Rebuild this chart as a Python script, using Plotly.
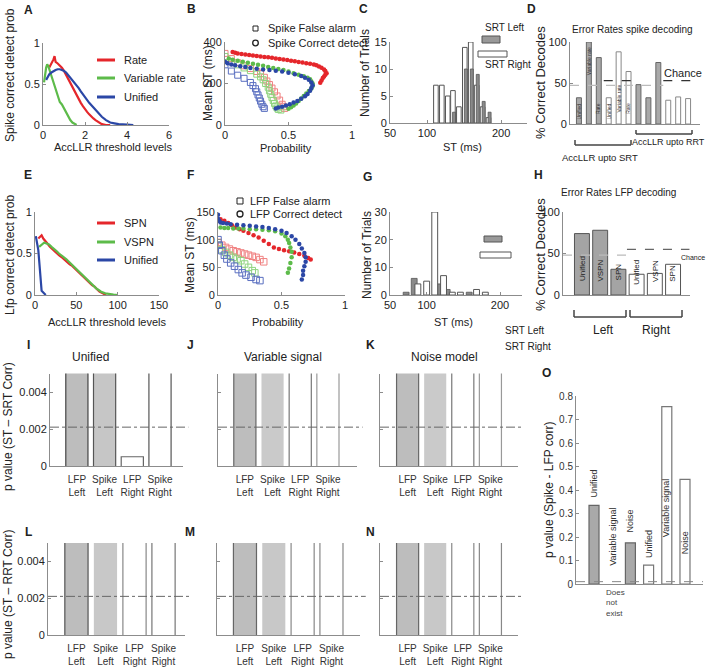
import plotly.graph_objects as go

W, H = 708, 670
FONT = "Liberation Sans, Arial, Helvetica, sans-serif"

def px_x(p):
    return p / W

def px_y(p):
    return 1 - p / H

# ---------------- DATA ----------------
# Panel A: spike correct detect prob vs AccLLR threshold
A_rate_x = [0.30,0.38,0.45,0.50,0.55,0.60,0.70,0.80,0.90,1.00,1.10,1.20,1.30,1.40,1.50,1.60,1.70,1.80,1.90,2.00,2.10,2.20,2.30,2.40,2.50,2.60,2.70,2.80,3.00,3.20]
A_rate_y = [0.70,0.74,0.76,0.80,0.84,0.77,0.75,0.73,0.70,0.66,0.61,0.56,0.50,0.45,0.40,0.35,0.31,0.27,0.23,0.19,0.16,0.13,0.10,0.08,0.06,0.04,0.02,0.01,0.00,0.00]
A_var_x = [0.05,0.10,0.15,0.20,0.25,0.30,0.35,0.40,0.50,0.60,0.70,0.80,0.90,1.00,1.10,1.20,1.30,1.40,1.50,1.60]
A_var_y = [0.52,0.62,0.70,0.74,0.72,0.68,0.64,0.60,0.51,0.42,0.34,0.28,0.25,0.20,0.15,0.10,0.06,0.03,0.01,0.00]
A_uni_x = [0.15,0.20,0.25,0.30,0.40,0.50,0.60,0.70,0.80,0.90,1.00,1.10,1.20,1.30,1.40,1.50,1.60,1.70,1.80,1.90,2.00,2.20,2.40,2.60,2.80,3.00,3.20,3.40,3.60,4.00,4.30]
A_uni_y = [0.55,0.58,0.60,0.62,0.64,0.66,0.67,0.68,0.68,0.67,0.66,0.64,0.61,0.58,0.55,0.52,0.48,0.45,0.41,0.38,0.34,0.27,0.21,0.15,0.10,0.06,0.03,0.02,0.01,0.005,0.0]

# Panel B: mean ST vs probability (spike)
B_red_cd_x = [0.06,0.08,0.10,0.13,0.16,0.19,0.22,0.25,0.28,0.31,0.34,0.37,0.40,0.43,0.46,0.49,0.52,0.55,0.58,0.61,0.64,0.67,0.70,0.72,0.74,0.76,0.78,0.79,0.80,0.79,0.78,0.77,0.76,0.75]
B_red_cd_y = [352,348,345,342,340,337,335,333,330,328,326,324,321,318,316,313,310,307,304,301,298,295,292,288,282,276,268,260,250,242,234,226,214,204]
B_red_fa_x = [0.00,0.05,0.10,0.15,0.20,0.25,0.28,0.31,0.33,0.35,0.37,0.39,0.41,0.43,0.45,0.46,0.47]
B_red_fa_y = [345,320,300,285,272,258,248,230,212,195,178,160,140,120,100,88,80]
B_grn_cd_x = [0.03,0.06,0.10,0.14,0.18,0.22,0.26,0.30,0.34,0.38,0.42,0.46,0.50,0.54,0.58,0.62,0.65,0.67,0.68,0.69,0.69,0.68,0.66,0.64,0.62,0.60,0.58,0.56,0.54,0.52,0.50]
B_grn_cd_y = [320,315,310,305,300,295,290,285,280,275,270,265,258,250,242,235,228,220,210,200,188,176,164,152,140,128,116,104,94,85,78]
B_grn_fa_x = [0.00,0.05,0.10,0.15,0.20,0.25,0.28,0.30,0.32,0.34,0.35,0.36,0.37,0.38,0.39,0.40,0.41,0.42,0.44]
B_grn_fa_y = [330,305,290,275,262,245,232,218,200,182,165,148,132,118,104,92,82,75,72]
B_blu_cd_x = [0.00,0.02,0.05,0.08,0.12,0.16,0.20,0.25,0.30,0.35,0.40,0.45,0.50,0.55,0.60,0.63,0.66,0.68,0.69,0.68,0.67,0.65,0.63,0.60,0.57,0.54,0.51,0.48,0.45,0.42,0.40]
B_blu_cd_y = [305,298,292,288,283,279,275,271,268,265,262,258,252,245,236,228,218,205,192,178,165,150,138,126,116,108,100,94,88,84,80]
B_blu_fa_x = [0.00,0.05,0.10,0.15,0.20,0.22,0.24,0.25,0.26,0.27,0.28,0.29,0.30,0.31]
B_blu_fa_y = [290,260,240,225,205,190,175,160,145,130,115,100,88,80]

# Panel C: ST histogram (spike)
C_right_st = [112,120,128,135,143,151,159,167,175,183]
C_right_n = [7,7,5,6,3,14,15,7,3,1]
C_left_st = [135,151,159,167,175,183]
C_left_n = [2,10,10,9,4,2]

# Panel D: error rates spike decoding
D_idx = [1,2,3,4,5,6,7,8,9,10,11,12]
D_vals = [32,100,81,32,88,64,48,32,75,29,33,31]
D_left = [True,True,True,False,False,False,True,True,True,False,False,False]
D_labels = ["Unified","Variable rate","Rate","Unified","Variable rate","Rate"]
D_label_y = [3,96,10,3,11,10]
D_chance_gray = 47
D_chance_dark = 53

# Panel E: LFP correct detect prob
E_spn_x = [4,6,8,10,12,15,18,21,24,27,30,33,36,39,42,45,48,51,54,57,60,63,66,69,72,75,78,82,86]
E_spn_y = [0.68,0.70,0.72,0.68,0.66,0.62,0.58,0.55,0.52,0.50,0.47,0.45,0.42,0.40,0.37,0.35,0.32,0.29,0.27,0.24,0.21,0.18,0.15,0.12,0.10,0.07,0.04,0.02,0.0]
E_vspn_x = [5,8,11,14,17,20,23,26,29,32,35,38,41,44,47,50,53,56,59,62,65,68,71,74,77,80,85,90,95,100]
E_vspn_y = [0.58,0.61,0.63,0.62,0.61,0.58,0.56,0.53,0.50,0.48,0.45,0.43,0.40,0.37,0.34,0.31,0.28,0.26,0.23,0.20,0.17,0.14,0.11,0.08,0.06,0.04,0.02,0.01,0.005,0.0]
E_uni_x = [1,2,3,4,5,6,7,8,10,12,13]
E_uni_y = [0.71,0.66,0.60,0.54,0.42,0.25,0.10,0.05,0.03,0.01,0.0]

# Panel F: mean ST vs probability (LFP)
F_blu_cd_x = [0.00,0.00,0.01,0.02,0.04,0.07,0.10,0.15,0.20,0.25,0.30,0.35,0.40,0.45,0.50,0.54,0.58,0.61,0.64,0.66,0.68,0.69,0.69,0.68,0.67,0.67,0.66]
F_blu_cd_y = [145,138,134,131,130,129,128,127,126,125,124,123,121,119,116,112,106,100,92,84,76,68,60,52,44,36,28]
F_grn_cd_x = [0.02,0.05,0.08,0.12,0.16,0.20,0.25,0.30,0.35,0.40,0.45,0.50,0.53,0.55,0.56,0.57,0.58,0.58,0.57,0.56,0.55]
F_grn_cd_y = [122,121,121,120,120,120,119,119,118,117,115,111,106,100,94,86,78,68,58,48,40]
F_red_cd_x = [0.02,0.05,0.08,0.11,0.14,0.17,0.20,0.24,0.28,0.32,0.36,0.40,0.44,0.48,0.52,0.56,0.60,0.64,0.68,0.71,0.73]
F_red_cd_y = [137,134,130,126,122,119,116,112,108,104,98,92,86,83,81,79,77,74,71,67,64]
F_red_fa_x = [0.00,0.03,0.06,0.09,0.12,0.15,0.18,0.21,0.24,0.27,0.30,0.33,0.36]
F_red_fa_y = [95,90,86,83,80,78,76,74,72,70,68,64,60]
F_grn_fa_x = [0.00,0.03,0.06,0.09,0.12,0.15,0.18,0.21,0.24,0.27,0.29]
F_grn_fa_y = [90,82,77,72,68,65,62,56,50,44,40]
F_blu_fa_x = [0.00,0.01,0.03,0.05,0.07,0.10,0.13,0.16,0.19,0.22,0.26,0.30,0.33]
F_blu_fa_y = [100,90,80,72,65,58,52,46,40,36,32,28,26]

# Panel G: ST histogram (LFP)
G_right_st = [88,100,111,123,135,146,168,180]
G_right_n = [4,5,30,7,1,1,2,1]
G_left_st = [72,83,117,128,158]
G_left_n = [1,6,4,2,1]

# Panel H: error rates LFP decoding
H_idx = [1,2,3,4,5,6]
H_vals = [74,78,31,25,26,37]
H_left = [True,True,True,False,False,False]
H_labels = ["Unified","VSPN","SPN","Unified","VSPN","SPN"]
H_label_y = [15,14,15,10,13,13]
H_chance_gray = 48
H_chance_dark = 55

# Panels I-N: p values
pv_cats = [1,2,3,4]
pv_ticktext = ["LFP<br>Left","Spike<br>Left","LFP<br>Right","Spike<br>Right"]
I_vals = [0.05,0.05,0.0005,0.05]
J_vals = [0.05,0.05,0.05,0.05]
K_vals = [0.05,0.05,0.05,0.05]
L_vals = [0.05,0.05,0.05,0.05]
M_vals = [0.05,0.05,0.05,0.05]
N_vals = [0.05,0.05,0.05,0.05]
pv_threshold = 0.0021

# Panel O: p value spike-LFP corr
O_idx = [1,2,3,4,5,6]
O_vals = [0.335,None,0.175,0.08,0.755,0.445]
O_left = [True,True,True,False,False,False]
O_labels = ["Unified","Variable signal","Noise","Unified","Variable signal","Noise"]
O_label_y = [0.36,0.07,0.21,0.10,0.19,0.12]
O_threshold = 0.01

# ---------------- FIGURE ----------------
RED = "#e5262b"
GRN = "#5dbb4a"
BLU = "#2b47a6"
RED_L = "#f08080"
GRN_L = "#8fd47f"
BLU_L = "#5a6fc0"
AXC = "#8c8c8c"

fig = go.Figure()
layout = dict(width=W, height=H, margin=dict(l=0, r=0, t=0, b=0, autoexpand=False),
              paper_bgcolor="white", plot_bgcolor="rgba(0,0,0,0)",
              showlegend=False, font=dict(family=FONT, size=11, color="#222"))

def names(i):
    s = "" if i == 1 else str(i)
    return "xaxis" + s, "yaxis" + s, "x" + s, "y" + s

def add_axes(i, x0, x1, ytop, ybot, xr, yr, xkw=None, ykw=None):
    xa, ya, xs, ys = names(i)
    base = dict(showgrid=False, zeroline=False, showline=True, linecolor=AXC,
                linewidth=1, ticks="inside", ticklen=3, tickcolor=AXC,
                tickfont=dict(size=11, color="#222", family=FONT), fixedrange=True)
    xd = dict(base, domain=[px_x(x0), px_x(x1)], range=xr, anchor=ys)
    yd = dict(base, domain=[px_y(ybot), px_y(ytop)], range=yr, anchor=xs)
    if xkw:
        xd.update(xkw)
    if ykw:
        yd.update(ykw)
    layout[xa] = xd
    layout[ya] = yd
    return xs, ys

ann = []
shapes = []

def text(x, y, s, size=11, xanchor="center", yanchor="middle", angle=0, bold=False, color="#222", align="center"):
    if bold:
        s = "<b>" + s + "</b>"
    ann.append(dict(x=px_x(x), y=px_y(y), xref="paper", yref="paper", text=s,
                    showarrow=False, font=dict(size=size, color=color, family=FONT),
                    xanchor=xanchor, yanchor=yanchor, textangle=angle, align=align))

def dtext(xs, ys, x, y, s, size=9, xanchor="center", yanchor="bottom", angle=-90, color="#222"):
    ann.append(dict(x=x, y=y, xref=xs, yref=ys, text=s, showarrow=False,
                    font=dict(size=size, color=color, family=FONT),
                    xanchor=xanchor, yanchor=yanchor, textangle=angle))

def pline(x0, y0, x1, y1, color="#444", width=1.5, dash="solid"):
    shapes.append(dict(type="line", xref="paper", yref="paper", x0=px_x(x0), y0=px_y(y0),
                       x1=px_x(x1), y1=px_y(y1), line=dict(color=color, width=width, dash=dash)))

def prect(x0, y0, x1, y1, fill, line="#555"):
    shapes.append(dict(type="rect", xref="paper", yref="paper", x0=px_x(x0), y0=px_y(y1),
                       x1=px_x(x1), y1=px_y(y0), fillcolor=fill, line=dict(color=line, width=1)))

def pcircle(cx, cy, r, color="#222"):
    shapes.append(dict(type="circle", xref="paper", yref="paper", x0=px_x(cx - r), y0=px_y(cy + r),
                       x1=px_x(cx + r), y1=px_y(cy - r), line=dict(color=color, width=1.3)))

def dline(xs, ys, x0, x1, y, color, dash="dash", width=1.2):
    shapes.append(dict(type="line", xref=xs, yref=ys, x0=x0, x1=x1, y0=y, y1=y,
                       line=dict(color=color, width=width, dash=dash)))

# ---- A ----
xs, ys = add_axes(1, 43, 169, 43, 125, [0, 6], [0, 1],
                  dict(tickvals=[0, 2, 4, 6]), dict(tickvals=[0, 0.5, 1], ticktext=["0", "0.5", "1"]))
for xv, yv, c in [(A_rate_x, A_rate_y, RED), (A_var_x, A_var_y, GRN), (A_uni_x, A_uni_y, BLU)]:
    fig.add_trace(go.Scatter(x=xv, y=yv, mode="lines", line=dict(color=c, width=2.2), xaxis=xs, yaxis=ys))
for yy, c, t in [(60, RED, "Rate"), (78, GRN, "Variable rate"), (97, BLU, "Unified")]:
    pline(97, yy, 115, yy, c, 3)
    text(122, yy, t, 11, xanchor="left")
text(28, 10, "A", 12, bold=True)
text(10, 75, "Spike correct detect prob", 12, angle=-90)
text(114, 147, "AccLLR threshold levels", 11)

# ---- B ----
xs, ys = add_axes(2, 225, 352, 42, 125, [0, 1], [0, 400],
                  dict(tickvals=[0, 0.5, 1], ticktext=["0", "0.5", "1"]), dict(tickvals=[0, 200, 400]))
for xv, yv, c in [(B_red_fa_x, B_red_fa_y, RED_L), (B_grn_fa_x, B_grn_fa_y, GRN_L), (B_blu_fa_x, B_blu_fa_y, BLU_L)]:
    fig.add_trace(go.Scatter(x=xv, y=yv, mode="markers", marker=dict(symbol="square-open", size=6, color=c, line=dict(width=1)), xaxis=xs, yaxis=ys))
for xv, yv, c in [(B_red_cd_x, B_red_cd_y, RED), (B_grn_cd_x, B_grn_cd_y, GRN), (B_blu_cd_x, B_blu_cd_y, BLU)]:
    fig.add_trace(go.Scatter(x=xv, y=yv, mode="markers", marker=dict(symbol="circle", size=4.5, color=c), xaxis=xs, yaxis=ys))
prect(253, 26, 258, 31, "rgba(0,0,0,0)", "#222")
text(266, 28, "Spike False alarm", 11, xanchor="left")
pcircle(255.5, 43, 2.8)
text(266, 43, "Spike Correct detect", 11, xanchor="left")
text(191, 9, "B", 12, bold=True)
text(208, 83, "Mean ST (ms)", 12, angle=-90)
text(286, 148, "Probability", 11)

# ---- C ----
xs, ys = add_axes(3, 390, 527, 42, 123, [50, 235], [0, 15],
                  dict(tickvals=[50, 100, 200]), dict(tickvals=[0, 5, 10, 15]))
fig.add_trace(go.Bar(x=C_right_st, y=C_right_n, width=6.2, marker=dict(color="white", line=dict(color="#555", width=1)), xaxis=xs, yaxis=ys))
fig.add_trace(go.Bar(x=[v + 1.5 for v in C_left_st], y=C_left_n, width=4, marker=dict(color="#8a8a8a", line=dict(color="#555", width=0.8)), xaxis=xs, yaxis=ys))
text(483, 28, "SRT Left", 10, xanchor="left")
prect(482, 36, 500, 43, "#999999", "#555")
prect(478, 51, 507, 57, "white", "#555")
text(483, 65, "SRT Right", 10, xanchor="left")
text(363, 9, "C", 12, bold=True)
text(365, 73, "Number of Trials", 12, angle=-90)
text(462, 147, "ST (ms)", 11)

# ---- D ----
xs, ys = add_axes(4, 570, 700, 42, 124, [0.1, 13.2], [0, 100],
                  dict(showticklabels=False, ticks=""), dict(tickvals=[0, 50, 100]))
fig.add_trace(go.Bar(x=D_idx, y=D_vals, width=0.5,
                     marker=dict(color=["#a9a9a9" if g else "white" for g in D_left],
                                 line=dict(color=["#666" if g else "#888" for g in D_left], width=1)),
                     xaxis=xs, yaxis=ys))
for k, lab in enumerate(D_labels):
    dtext(xs, ys, D_idx[k], D_label_y[k], lab, size=5, yanchor="top" if k == 1 else "bottom", color="#333")
dline(xs, ys, 0.1, 9.5, D_chance_gray, "#bbbbbb", "dash", 1.2)
dline(xs, ys, 3.5, 6.35, D_chance_dark, "#333", "dash", 1.2)
dline(xs, ys, 9.5, 12.4, D_chance_dark, "#333", "dash", 1.2)
text(683, 73, "Chance", 11)
text(632, 29, "Error Rates spike decoding", 10)
pline(575, 145, 631, 145, "#444", 1.5)
pline(575, 140, 575, 145, "#444", 1.5)
pline(631, 140, 631, 145, "#444", 1.5)
text(600, 157, "AccLLR upto SRT", 9.5)
pline(636, 134, 692, 134, "#444", 1.5)
pline(636, 130, 636, 134, "#444", 1.5)
pline(692, 130, 692, 134, "#444", 1.5)
text(668, 142, "AccLLR upto RRT", 9)
text(531, 9, "D", 12, bold=True)
text(540, 83, "% Correct Decodes", 13, angle=-90)

# ---- E ----
xs, ys = add_axes(5, 35, 159, 212, 295, [0, 150], [0, 1],
                  dict(tickvals=[0, 50, 100, 150]), dict(tickvals=[0, 0.5, 1], ticktext=["0", "0.5", "1"]))
for xv, yv, c in [(E_spn_x, E_spn_y, RED), (E_vspn_x, E_vspn_y, GRN), (E_uni_x, E_uni_y, BLU)]:
    fig.add_trace(go.Scatter(x=xv, y=yv, mode="lines", line=dict(color=c, width=2.2), xaxis=xs, yaxis=ys))
for yy, c, t in [(223, RED, "SPN"), (242, GRN, "VSPN"), (260, BLU, "Unified")]:
    pline(97, yy, 115, yy, c, 3)
    text(122, yy, t, 11, xanchor="left")
text(28, 175, "E", 12, bold=True)
text(10, 255, "Lfp correct detect prob", 12, angle=-90)
text(107, 322, "AccLLR threshold levels", 11)

# ---- F ----
xs, ys = add_axes(6, 218, 345, 212, 295, [0, 1], [0, 150],
                  dict(tickvals=[0, 0.5, 1], ticktext=["0", "0.5", "1"]), dict(tickvals=[0, 50, 100, 150]))
for xv, yv, c in [(F_red_fa_x, F_red_fa_y, RED_L), (F_grn_fa_x, F_grn_fa_y, GRN_L), (F_blu_fa_x, F_blu_fa_y, BLU_L)]:
    fig.add_trace(go.Scatter(x=xv, y=yv, mode="markers", marker=dict(symbol="square-open", size=6.5, color=c, line=dict(width=1)), xaxis=xs, yaxis=ys))
for xv, yv, c in [(F_red_cd_x, F_red_cd_y, RED), (F_grn_cd_x, F_grn_cd_y, GRN), (F_blu_cd_x, F_blu_cd_y, BLU)]:
    fig.add_trace(go.Scatter(x=xv, y=yv, mode="markers", marker=dict(symbol="circle", size=4.5, color=c), xaxis=xs, yaxis=ys))
prect(237, 198, 243, 204, "rgba(0,0,0,0)", "#222")
text(248, 201, "LFP False alarm", 11, xanchor="left")
pcircle(240, 214, 3)
text(248, 214, "LFP Correct detect", 11, xanchor="left")
text(190, 175, "F", 12, bold=True)
text(190, 255, "Mean ST (ms)", 12, angle=-90)
text(278, 322, "Probability", 11)

# ---- G ----
xs, ys = add_axes(7, 390, 522, 212, 295, [50, 230], [0, 30],
                  dict(tickvals=[50, 100, 200]), dict(tickvals=[0, 10, 20, 30]))
fig.add_trace(go.Bar(x=G_left_st, y=G_left_n, width=8, marker=dict(color="#8a8a8a", line=dict(color="#555", width=0.8)), xaxis=xs, yaxis=ys))
fig.add_trace(go.Bar(x=G_right_st, y=G_right_n, width=8, marker=dict(color="white", line=dict(color="#555", width=1)), xaxis=xs, yaxis=ys))
prect(484, 236, 502, 242, "#999999", "#555")
prect(480, 252, 511, 258, "white", "#555")
text(503, 331, "SRT Left", 10, xanchor="left")
text(503, 346, "SRT Right", 10, xanchor="left")
text(367, 177, "G", 12, bold=True)
text(367, 255, "Number of Trials", 12, angle=-90)
text(453, 322, "ST (ms)", 11)

# ---- H ----
xs, ys = add_axes(8, 563, 690, 212, 295, [-0.04, 6.93], [0, 100],
                  dict(showticklabels=False, ticks=""), dict(tickvals=[0, 50, 100]))
fig.add_trace(go.Bar(x=H_idx, y=H_vals, width=0.82,
                     marker=dict(color=["#a4a4a4" if g else "white" for g in H_left],
                                 line=dict(color="#555", width=1)),
                     xaxis=xs, yaxis=ys))
for k, lab in enumerate(H_labels):
    dtext(xs, ys, H_idx[k], H_label_y[k], lab, size=8, yanchor="bottom", color="#222")
dline(xs, ys, -0.04, 3.47, H_chance_gray, "#bbbbbb", "dash", 1.2)
dline(xs, ys, 3.47, 6.9, H_chance_dark, "#666", "dash", 1.2)
text(693, 257, "Chance", 7)
text(618, 192, "Error Rates LFP decoding", 10)
pline(574, 317, 626, 317, "#444", 1.5)
pline(574, 310, 574, 317, "#444", 1.5)
pline(626, 310, 626, 317, "#444", 1.5)
pline(630, 317, 682, 317, "#444", 1.5)
pline(630, 310, 630, 317, "#444", 1.5)
pline(682, 310, 682, 317, "#444", 1.5)
text(603, 330, "Left", 12)
text(656, 330, "Right", 12)
text(538, 175, "H", 12, bold=True)
text(540, 255, "% Correct Decodes", 13, angle=-90)

# ---- I-N ----
BAR_W = 0.8
pv_panels = [
    (9, 50, 183, 373.5, 466, [0.03, 4.83], I_vals, True, "I", 28, 345, "Unified", 90,
     ["#bdbdbd", "#c6c6c6", "white", "white"], ["#444", "#555", "#666", "#555"]),
    (10, 218, 357, 373.5, 466, [0.03, 5.05], J_vals, False, "J", 190, 345, "Variable signal", 283,
     ["#bdbdbd", "#cacaca", "white", "white"], ["#666", None, "#777", "#999"]),
    (11, 380, 518, 373.5, 466, [0.0, 5.0], K_vals, False, "K", 370, 345, "Noise model", 445,
     ["#bdbdbd", "#cacaca", "white", "white"], ["#666", None, "#777", "#999"]),
    (12, 48, 185, 543, 635, [0.02, 4.74], L_vals, True, "L", 28, 532, None, None,
     ["#bdbdbd", "#c8c8c8", "white", "white"], ["#555", None, "#888", "#777"]),
    (13, 217, 360, 543, 635, [0.03, 4.99], M_vals, False, "M", 190, 532, None, None,
     ["#bdbdbd", "#c8c8c8", "white", "white"], ["#666", None, "#888", "#888"]),
    (14, 380, 518, 543, 635, [0.0, 5.0], N_vals, False, "N", 370, 532, None, None,
     ["#bdbdbd", "#c8c8c8", "white", "white"], ["#666", None, "#888", "#888"]),
]
for (i, x0, x1, yt, yb, xr, vals, labels, letter, lx, ly, title, tx, fills, borders) in pv_panels:
    xs, ys = add_axes(i, x0, x1, yt, yb, xr, [0, 0.005],
                      dict(tickvals=pv_cats, ticktext=pv_ticktext, ticks="", tickfont=dict(size=10, color="#333", family=FONT), ticklabelstandoff=4),
                      dict(tickvals=[0, 0.002, 0.004], ticktext=["0", "0.002", "0.004"], showticklabels=labels))
    fig.add_trace(go.Bar(x=pv_cats, y=vals, width=BAR_W,
                         marker=dict(color=fills, line=dict(width=0)),
                         xaxis=xs, yaxis=ys))
    # bar outlines (drawn as lines so that clipped tops show no edge)
    for c, v, bc in zip(pv_cats, vals, borders):
        if bc is None:
            continue
        fig.add_trace(go.Scatter(x=[c - BAR_W / 2, c - BAR_W / 2, c + BAR_W / 2, c + BAR_W / 2],
                                 y=[0, v, v, 0], mode="lines", line=dict(color=bc, width=1.2),
                                 xaxis=xs, yaxis=ys, hoverinfo="skip"))
    shapes.append(dict(type="line", xref=xs + " domain", yref=ys, x0=0, x1=1.04, y0=pv_threshold, y1=pv_threshold,
                       line=dict(color="#666", width=1, dash="dashdot")))
    text(lx, ly, letter, 12, bold=True)
    if title:
        text(tx, 357, title, 12)
text(8, 427, "p value (ST \u2013 SRT Corr)", 12, angle=-90)
text(8, 595, "p value (ST \u2013 RRT Corr)", 12, angle=-90)

# ---- O ----
xs, ys = add_axes(15, 576, 703, 396, 584, [0.01, 6.99], [0, 0.8],
                  dict(showticklabels=False, ticks=""),
                  dict(tickvals=[0, 0.1, 0.2, 0.3, 0.4, 0.5, 0.6, 0.7, 0.8],
                       ticktext=["0", "0.1", "0.2", "0.3", "0.4", "0.5", "0.6", "0.7", "0.8"],
                       tickfont=dict(size=10, color="#333", family=FONT)))
fig.add_trace(go.Bar(x=O_idx, y=O_vals, width=0.55,
                     marker=dict(color=["#a9a9a9" if g else "white" for g in O_left],
                                 line=dict(color=["#666" if g else "#777" for g in O_left], width=1.2)),
                     xaxis=xs, yaxis=ys))
for k, lab in enumerate(O_labels):
    dtext(xs, ys, O_idx[k], O_label_y[k], lab, size=9, yanchor="bottom", color="#333")
dline(xs, ys, 0.01, 6.99, O_threshold, "#888", "dash", 1)
text(604, 586, "Does<br>not<br>exist", 8, xanchor="left", yanchor="top", align="left", color="#444")
text(546, 373, "O", 12, bold=True)
text(549, 490, "p value (Spike - LFP corr)", 12, angle=-90)

layout["annotations"] = ann
layout["shapes"] = shapes
fig.update_layout(**layout)
fig.write_html("out.html", config={"displayModeBar": False, "staticPlot": True},
               post_script="document.body.style.margin='0px';document.body.style.padding='0px';")
